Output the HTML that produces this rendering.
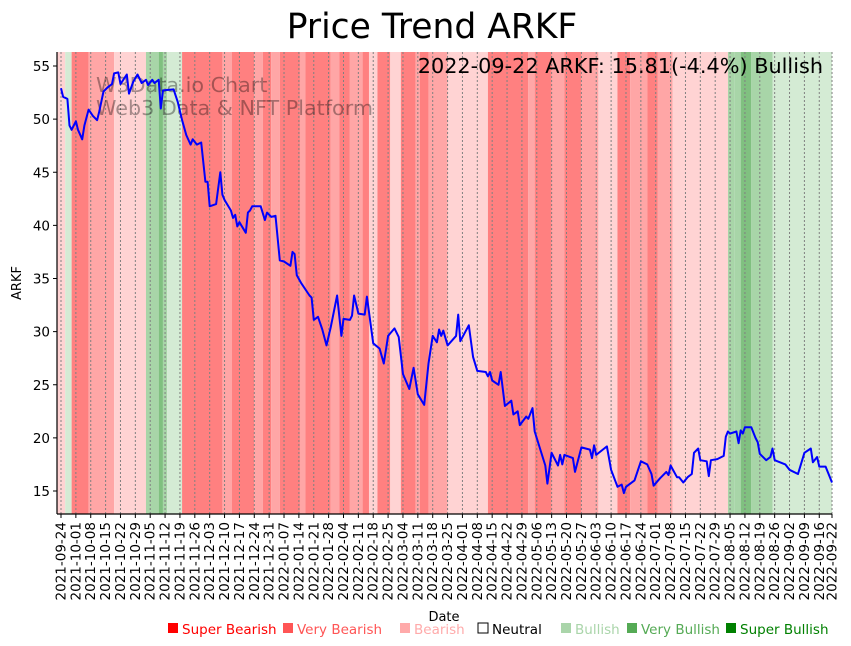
<!DOCTYPE html>
<html><head><meta charset="utf-8">
<style>
html,body{margin:0;padding:0;background:#fff;}
svg{display:block;font-family:"DejaVu Sans","Liberation Sans",sans-serif;}
</style></head>
<body>
<svg id="chart" width="851" height="646" viewBox="0 0 851 646" xmlns="http://www.w3.org/2000/svg">
<text x="432" y="38" text-anchor="middle" font-size="34.5" fill="#000">Price Trend ARKF</text>
<g id="bands"></g>
<g id="grid"></g>
<g fill="#000" fill-opacity="0.35" font-size="20.7">
<text x="96" y="92">W3Data.io Chart</text>
<text x="96" y="115">Web3 Data &amp; NFT Platform</text>
</g>
<path id="line" fill="none" stroke="#0000ff" stroke-width="2" stroke-linejoin="round"/>
<text x="823" y="73" text-anchor="end" font-size="20.8" fill="#000">2022-09-22 ARKF: 15.81(-4.4%) Bullish</text>
<g id="yaxis"></g>
<g id="xaxis"></g>
<text transform="translate(21,283) rotate(-90)" text-anchor="middle" font-size="13">ARKF</text>
<text x="444" y="621" text-anchor="middle" font-size="13">Date</text>
<g id="legend" font-size="13.5"></g>
</svg>
<script>
const days=[0,1,3,4,5,7,8,10,11,13,15,17,18,20,22,24,25,27,28,31,32,34,36,38,40,41,43,44,46,47,48,53,55,57,59,61,62,64,66,68,69,70,73,75,76,77,80,81,82,83,84,87,88,89,90,94,96,97,99,101,103,105,108,109,110,111,113,117,118,119,121,123,125,127,130,132,133,136,137,138,140,143,144,147,150,152,154,157,159,161,164,166,168,171,173,175,177,178,179,180,182,186,187,188,192,194,196,200,201,202,203,206,207,209,212,213,215,216,219,220,222,223,228,229,231,234,235,236,237,241,242,245,249,250,251,252,257,259,262,264,265,266,270,273,276,278,279,282,285,286,287,290,291,293,295,297,298,300,301,304,305,306,309,312,313,314,315,318,319,320,321,322,325,327,328,329,332,334,335,336,341,343,347,350,353,354,356,357,360,363];
const prices=[52.9,52.1,51.9,49.4,49.0,49.8,49.0,48.1,49.4,50.9,50.3,49.9,50.7,52.6,53.0,53.3,54.3,54.4,53.3,54.2,52.4,53.5,54.2,53.4,53.7,53.2,53.7,53.4,53.7,51.0,52.7,52.8,51.6,49.9,48.5,47.6,48.1,47.6,47.8,44.1,44.1,41.8,42.0,45.0,42.9,42.4,41.4,40.7,41.0,39.9,40.3,39.3,41.2,41.4,41.8,41.8,40.5,41.2,40.8,40.9,36.7,36.6,36.2,37.5,37.3,35.3,34.6,33.4,33.2,31.1,31.4,30.2,28.7,30.4,33.4,29.6,31.2,31.1,31.5,33.4,31.7,31.6,33.3,28.9,28.4,27.0,29.6,30.3,29.5,26.0,24.6,26.6,24.1,23.1,27.0,29.6,29.0,30.2,29.6,30.1,28.7,29.6,31.6,29.1,30.6,27.6,26.3,26.2,25.8,26.2,25.4,25.0,26.2,23.0,23.5,22.2,22.5,21.2,22.0,21.8,22.8,20.6,17.4,15.7,18.6,17.4,18.4,17.5,18.4,18.1,16.8,19.1,18.9,18.1,19.3,18.4,19.2,17.0,15.4,15.6,14.8,15.4,16.0,17.8,17.5,16.6,15.5,16.2,16.8,16.5,17.4,16.3,16.3,15.8,16.3,16.6,18.6,19.0,17.9,17.8,16.4,17.9,18.0,18.3,20.1,20.6,20.4,20.6,19.5,20.7,20.4,21.0,21.0,20.0,19.6,18.5,17.9,18.2,19.0,17.9,17.5,17.0,16.6,18.6,19.0,17.7,18.2,17.3,17.3,15.8];
const bandStarts=[-2,2,5,13,25,40,46,48,50,57,76,80.5,91,95,99,103,112.5,115,127,131,136,142,145,149,155,160,167,169,173,182,201,220,223,231,237,242,245,253,262,268,276,281,288,314,317,320,325,335];
const bandLevels=[-1,1,-3,-2,-1,2,3,2,1,-3,-2,-3,-2,-3,-2,-3,-2,-3,-2,-3,-2,-3,-1,-3,-1,-3,-2,-3,-2,-1,-3,-2,-3,-2,-3,-3,-2,-1,-3,-2,-3,-2,-1,2,2,3,2,1];
const bandEnd=363.5;
const yTicks=[15,20,25,30,35,40,45,50,55];
const tickDates=[];
const startDate=new Date(Date.UTC(2021,8,24));
for(let i=0;i<=51;i++){const d=new Date(startDate.getTime()+i*7*86400000);tickDates.push(d.toISOString().slice(0,10));}
tickDates.push('2022-09-22');

const L=57,R=832,T=52,B=514;
const X=d=>61+d*2.124;
const Y=p=>491-(p-15)*10.625;
const dayOf=s=>Math.round((Date.parse(s)-startDate.getTime())/86400000);
const NS='http://www.w3.org/2000/svg';
function mk(tag,attrs,parent){const e=document.createElementNS(NS,tag);for(const k in attrs)e.setAttribute(k,attrs[k]);parent.appendChild(e);return e;}
const colors={'-3':'#ff8080','-2':'#ffa6a6','-1':'#ffd3d3','1':'#d4ebd4','2':'#a8d5a8','3':'#80c080'};
const gb=document.getElementById('bands');
bandStarts.forEach((s,i)=>{
  const e=(i<bandStarts.length-1?bandStarts[i+1]:bandEnd);
  const x0=Math.max(L,X(s)),x1=Math.min(R,X(e));
  const r=mk('rect',{x:x0,y:T,width:x1-x0,height:B-T,fill:colors[bandLevels[i]]},gb);
  
  
});
const gg=document.getElementById('grid'),gx=document.getElementById('xaxis');
tickDates.forEach(t=>{
  const x=X(dayOf(t));
  const g=mk('line',{x1:x,x2:x,y1:T,y2:B,stroke:'#808080','stroke-width':1,'stroke-dasharray':'2,2'},gg);
  
  
  const tk=mk('line',{x1:x,x2:x,y1:B,y2:B+4,stroke:'#000'},gx);
  
  
  const lb=mk('text',{transform:`translate(${x+4.5},${B+8}) rotate(-90)`,'text-anchor':'end','font-size':13.5},gx);
  lb.textContent=t;
  
  
});
mk('line',{x1:L,x2:R,y1:B,y2:B,stroke:'#000','stroke-width':1.2},gx);
const gy=document.getElementById('yaxis');
mk('line',{x1:L,x2:L,y1:T,y2:B,stroke:'#000','stroke-width':1.2},gy);
yTicks.forEach(v=>{
  const y=Y(v);
  const tk=mk('line',{x1:L-4,x2:L,y1:y,y2:y,stroke:'#000'},gy);
  
  
  const lb=mk('text',{x:L-7,y:y+5,'text-anchor':'end','font-size':13.5},gy);
  lb.textContent=v;
  
  
});
document.getElementById('line').setAttribute('d',days.map((d,i)=>(i?'L':'M')+X(d).toFixed(1)+','+Y(prices[i]).toFixed(1)).join(''));
const legendLabels=['Super Bearish','Very Bearish','Bearish','Neutral','Bullish','Very Bullish','Super Bullish'];
const legendColors=['#ff0000','#ff5555','#ffaaaa','none','#aad5aa','#55aa55','#008000'];
const legendX=[167,282,399,477,560,626,725];
const gl=document.getElementById('legend');
legendLabels.forEach((s,i)=>{
  const g=mk('g',{},gl);
  
  
  mk('rect',{x:legendX[i]+1,y:623,width:10,height:10,fill:legendColors[i],stroke:i===3?'#000':'none'},g);
  const t=mk('text',{x:legendX[i]+15,y:634,fill:i===3?'#000':legendColors[i]},g);
  t.textContent=s;
});
</script>
</body></html>
